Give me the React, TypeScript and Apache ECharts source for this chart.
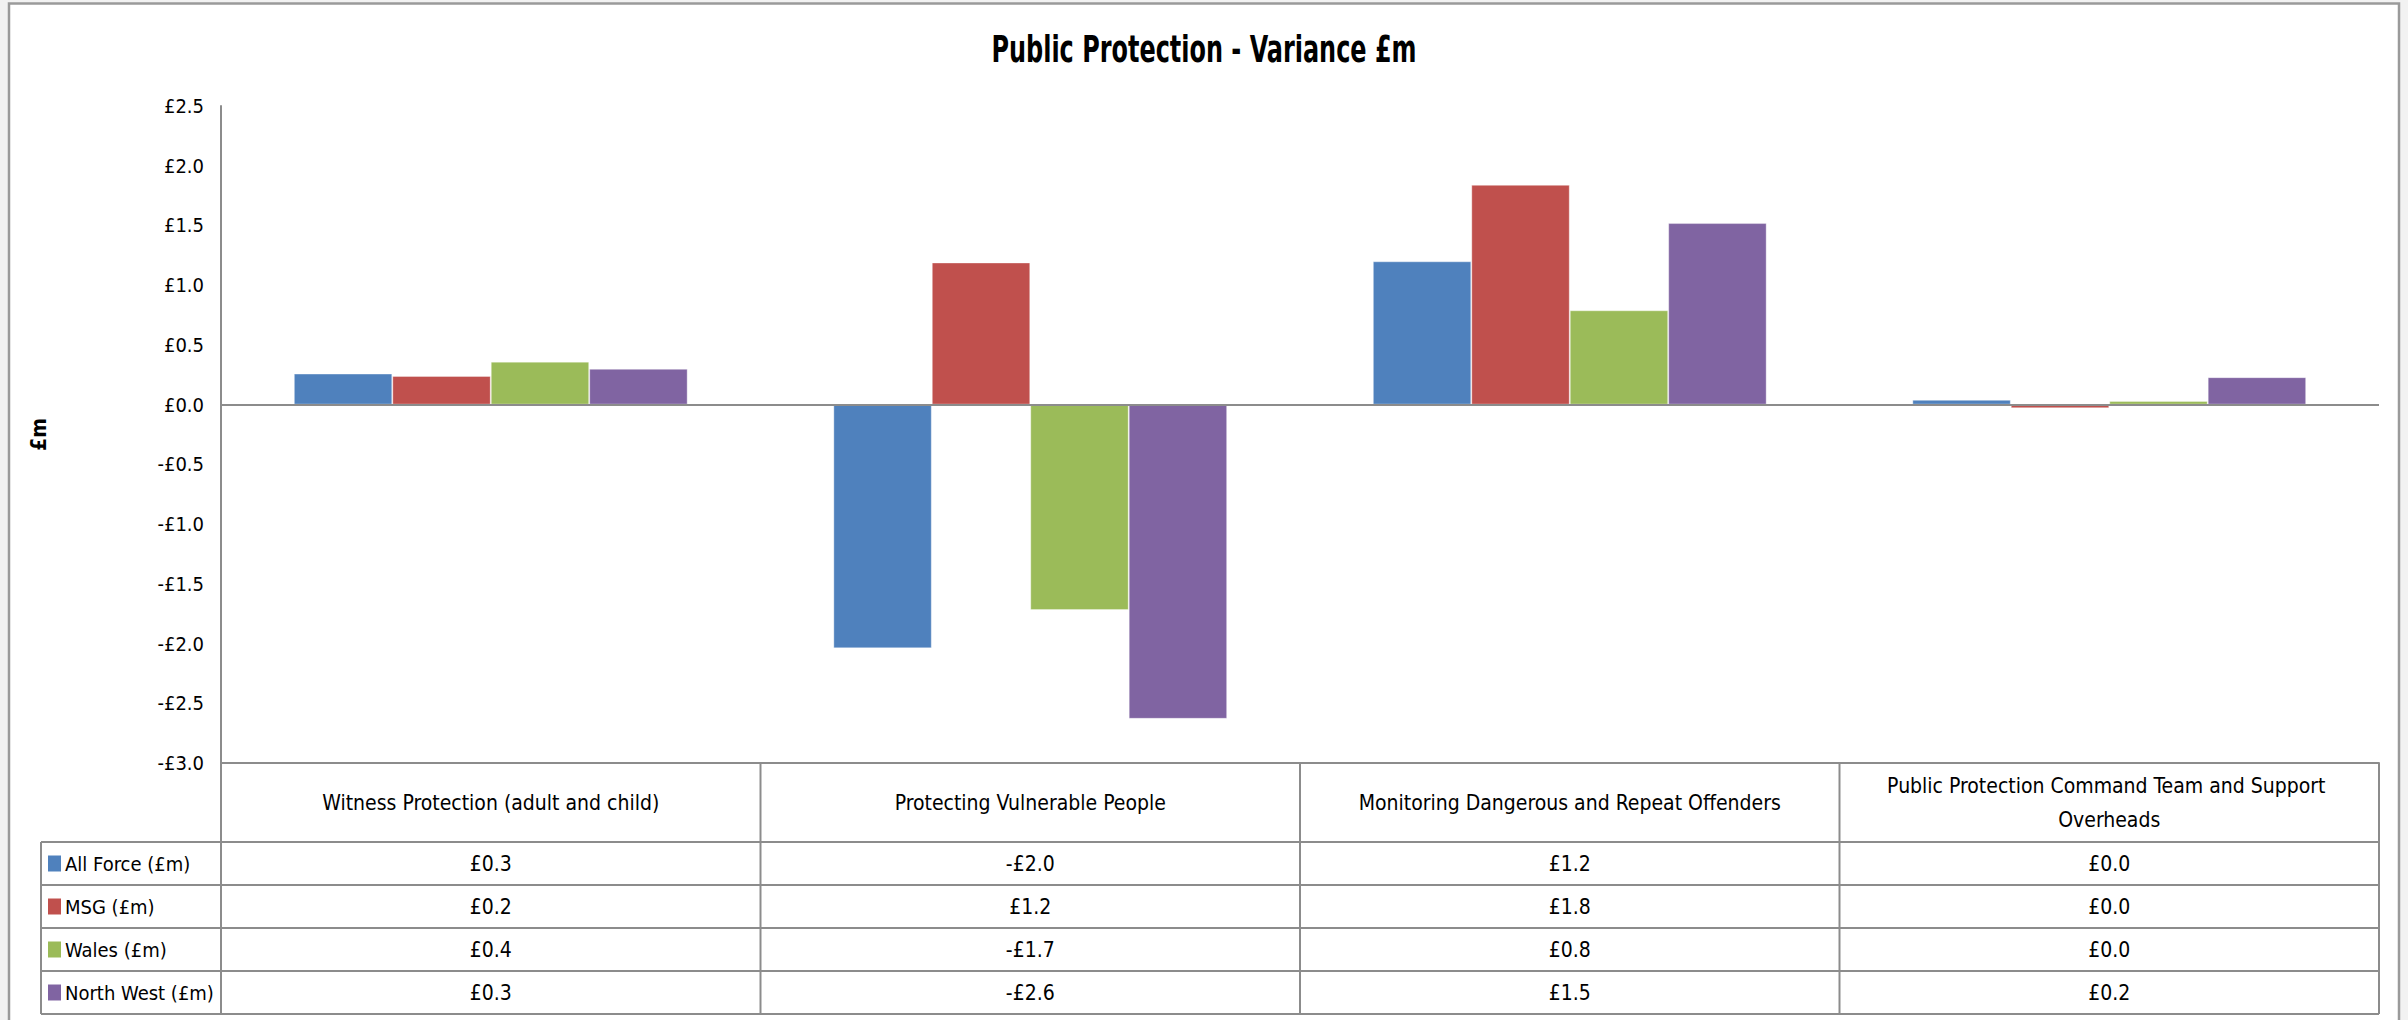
import React, { useEffect, useRef } from "react";
import * as echarts from "echarts";

const categories = [
  "Witness Protection (adult and child)",
  "Protecting Vulnerable People",
  "Monitoring Dangerous and Repeat Offenders",
  "Public Protection Command Team and Support Overheads",
];
const seriesNames = ["All Force (£m)", "MSG (£m)", "Wales (£m)", "North West (£m)"];
const allForce = [0.26, -2.04, 1.2, 0.04];
const msg = [0.24, 1.19, 1.84, -0.03];
const wales = [0.36, -1.72, 0.79, 0.03];
const northWest = [0.3, -2.63, 1.52, 0.23];
const colors = ["#4F81BD", "#C0504D", "#9BBB59", "#8064A2"];
const yTicks = { min: -3, max: 2.5, interval: 0.5 };
const titleText = "Public Protection - Variance £m";

const FONT = "'Liberation Sans Narrow', 'Arial Narrow', 'DejaVu Sans Condensed', sans-serif";
const W = 2408;
const H = 1020;
const GRID = { left: 221, right: 29, top: 106, bottom: 257 };
const ROW_TOP = 842;
const ROW_H = 43;
const LEGEND_LEFT = 41;
const LINE = "#8c8c8c";

function money(v: number): string {
  const r = Math.round(v * 10) / 10;
  if (r === 0) return "£0.0";
  return (r < 0 ? "-" : "") + "£" + Math.abs(r).toFixed(1);
}

export default function App() {
  const ref = useRef<HTMLDivElement>(null);
  useEffect(() => {
    document.body.style.margin = "0";
    document.body.style.background = "#f2f2f2";
    const chart = echarts.init(ref.current!, undefined, { renderer: "svg" });
    const data = [allForce, msg, wales, northWest];
    chart.setOption({
      animation: false,
      backgroundColor: "transparent",
      grid: { ...GRID, containLabel: false },
      xAxis: {
        type: "category",
        data: categories,
        axisLine: { onZero: false, lineStyle: { color: LINE, width: 2 } },
        axisTick: { show: false },
        axisLabel: {
          interval: 0,
          margin: 40,
          verticalAlign: "middle",
          width: 470,
          overflow: "break",
          lineHeight: 34,
          fontFamily: FONT,
          fontSize: 21,
          color: "#000",
        },
        splitLine: { show: false },
      },
      yAxis: {
        type: "value",
        min: yTicks.min,
        max: yTicks.max,
        interval: yTicks.interval,
        name: "£m",
        nameLocation: "middle",
        nameRotate: 90,
        nameGap: 172,
        nameTextStyle: { fontFamily: FONT, fontSize: 21, fontWeight: "bold", color: "#000" },
        axisLine: { show: true, lineStyle: { color: LINE, width: 2 } },
        axisTick: { show: false },
        splitLine: { show: false },
        axisLabel: {
          margin: 17,
          fontFamily: FONT,
          fontSize: 20,
          color: "#000",
          formatter: (v: number) => money(v),
        },
      },
      series: data.map((d, i) => ({
        type: "bar",
        name: seriesNames[i],
        data: d,
        barGap: "0%",
        barCategoryGap: "27%",
        itemStyle: { color: colors[i], borderColor: "rgba(255,255,255,0.35)", borderWidth: 1 },
        ...(i === 0
          ? {
              markLine: {
                silent: true,
                symbol: "none",
                label: { show: false },
                lineStyle: { color: LINE, width: 2, type: "solid" },
                data: [{ yAxis: 0 }],
              },
            }
          : {}),
      })),
    });

    // Data table under the axis
    const gridRight = W - GRID.right;
    const axisBottom = H - GRID.bottom;
    const band = (gridRight - GRID.left) / categories.length;
    const centers = categories.map((_, i) => chart.convertToPixel({ xAxisIndex: 0 }, i) as number);
    const tableBottom = ROW_TOP + ROW_H * seriesNames.length;
    const g: any[] = [];
    g.push({
      type: "rect",
      z: -10,
      shape: { x: 9, y: 3.5, width: 2390, height: 1040 },
      style: { fill: "#fff", stroke: "#9a9a9a", lineWidth: 2.5 },
    });
    g.push({
      type: "text",
      x: W / 2,
      y: 49,
      scaleX: 0.72,
      style: {
        text: titleText,
        fontFamily: FONT,
        fontSize: 37,
        fontWeight: "bold",
        fill: "#000",
        align: "center",
        verticalAlign: "middle",
      },
    });
    for (let i = 0; i <= categories.length; i++) {
      const x = GRID.left + band * i;
      g.push({ type: "line", shape: { x1: x, y1: axisBottom, x2: x, y2: tableBottom }, style: { stroke: LINE, lineWidth: 2 } });
    }
    g.push({ type: "line", shape: { x1: LEGEND_LEFT, y1: ROW_TOP, x2: LEGEND_LEFT, y2: tableBottom }, style: { stroke: LINE, lineWidth: 2 } });
    for (let r = 0; r <= seriesNames.length; r++) {
      const y = ROW_TOP + ROW_H * r;
      g.push({ type: "line", shape: { x1: LEGEND_LEFT, y1: y, x2: gridRight, y2: y }, style: { stroke: LINE, lineWidth: 2 } });
    }
    seriesNames.forEach((name, r) => {
      const cy = ROW_TOP + ROW_H * r + ROW_H / 2;
      g.push({ type: "rect", shape: { x: 48, y: cy - 8, width: 13, height: 16 }, style: { fill: colors[r] } });
      g.push({
        type: "text",
        x: 65,
        y: cy,
        style: { text: name, fontFamily: FONT, fontSize: 20, fill: "#000", verticalAlign: "middle", align: "left" },
      });
      data[r].forEach((v, c) => {
        g.push({
          type: "text",
          x: centers[c],
          y: cy,
          style: { text: money(v), fontFamily: FONT, fontSize: 21, fill: "#000", verticalAlign: "middle", align: "center" },
        });
      });
    });
    chart.setOption({ graphic: g });
    return () => chart.dispose();
  }, []);
  return <div ref={ref} style={{ width: W, height: H }} />;
}
